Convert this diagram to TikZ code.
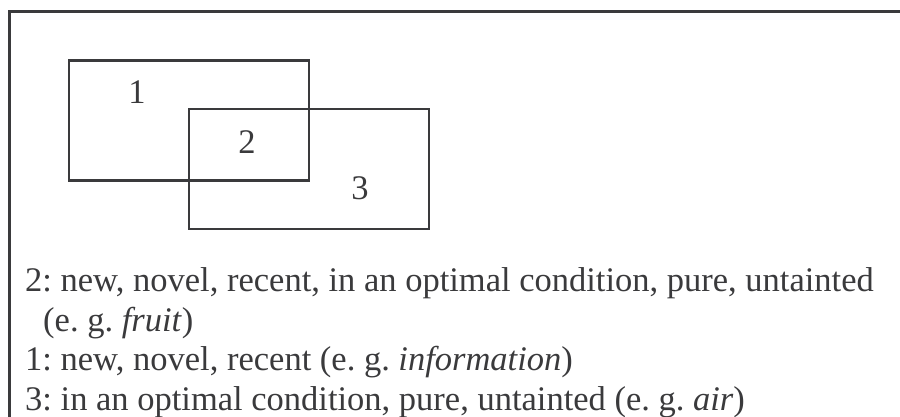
\documentclass[tikz,border=0pt]{standalone}
\usepackage{fontspec}
\setmainfont{Liberation Serif}
\usetikzlibrary{positioning}
\definecolor{inkGray}{HTML}{3A3A3C}
\frenchspacing

\begin{document}
\begin{tikzpicture}[x=1pt, y=-1pt,
    every node/.style={font=\fontsize{34.5}{40}\selectfont, text=inkGray},
    sensebox/.style={draw=inkGray, line width=2.4pt, minimum width=240pt,
      minimum height=120pt, inner sep=0pt}]
  \useasboundingbox (0,0) rectangle (900,417);
  % open frame, cut at right and bottom
  \draw[inkGray, line width=3pt] (9.3,417) -- (9.3,11.3) -- (900,11.3);
  \node[sensebox] (one) at (188.7,120.7) {};
  \node[sensebox] (three) at (308.7,169) {};
  \node (lone) at (137,92) {1};
  \node (ltwo) at (247,142.5) {2};
  \node (lthree) at (360,188.5) {3};
  % legend
  \node[anchor=base west, inner sep=0pt] (ktwo) at (25,291) {2: new, novel, recent, in an optimal condition, pure, untainted};
  \node[anchor=base west, inner sep=0pt] (ktwob) at (43,331) {(e. g. \textit{fruit})};
  \node[anchor=base west, inner sep=0pt] (kone) at (25,370) {1: new, novel, recent (e. g. \textit{information})};
  \node[anchor=base west, inner sep=0pt] (kthree) at (25,410) {3: in an optimal condition, pure, untainted (e. g. \textit{air})};
\end{tikzpicture}
\end{document}
